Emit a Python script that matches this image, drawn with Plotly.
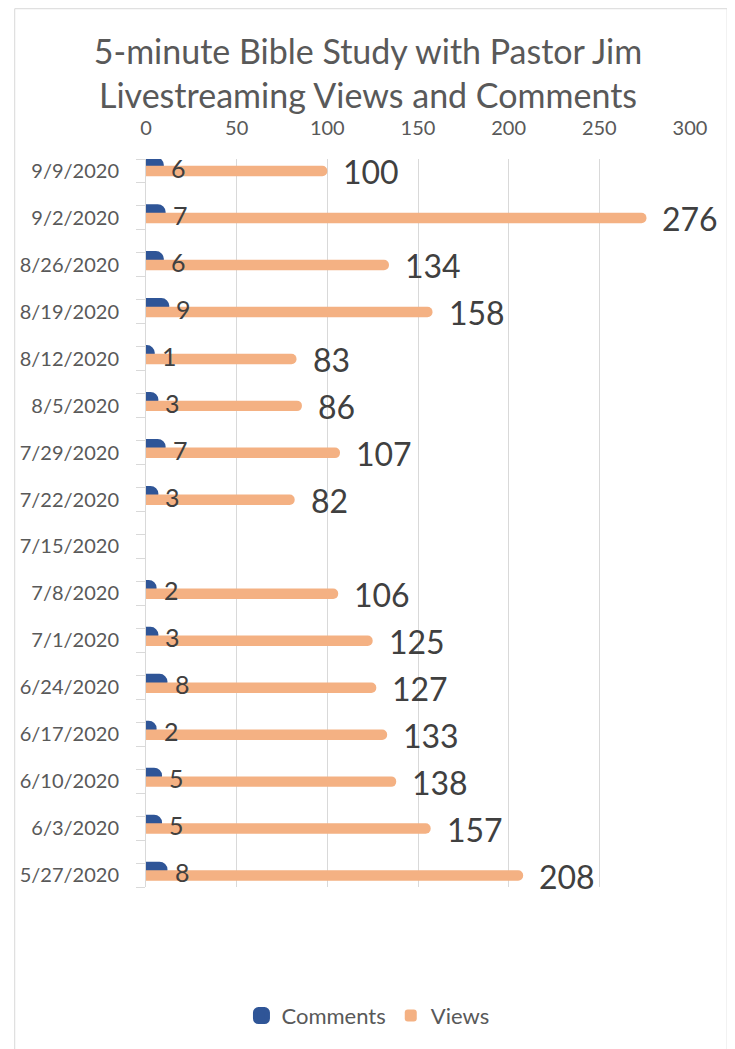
import plotly.graph_objects as go

dates = ["9/9/2020", "9/2/2020", "8/26/2020", "8/19/2020", "8/12/2020", "8/5/2020",
         "7/29/2020", "7/22/2020", "7/15/2020", "7/8/2020", "7/1/2020", "6/24/2020",
         "6/17/2020", "6/10/2020", "6/3/2020", "5/27/2020"]
comments = [6, 7, 6, 9, 1, 3, 7, 3, None, 2, 3, 8, 2, 5, 5, 8]
views = [100, 276, 134, 158, 83, 86, 107, 82, None, 106, 125, 127, 133, 138, 157, 208]
x_ticks = [0, 50, 100, 150, 200, 250, 300]

BLUE = "#2F5597"
ORANGE = "#F4B183"
GRID = "#D9D9D9"
TXT = "#595959"
LBL = "#404040"
FONT = "Lato"

# page body has an 8px default margin: figure coordinates = page coordinates - 8
OFF = 8
W, H = 735 - OFF, 1049 - OFF
L, R, T, B = 141 - OFF, 45, 159 - OFF, 161

n = len(dates)
pos = list(range(n))          # category slots of the dates
lo, hi = -0.25, n - 1 + 0.25

fig = go.Figure()
fig.add_trace(go.Bar(
    name="Comments", y=pos, x=comments, orientation="h",
    width=0.045, offset=-0.14,
    marker=dict(color=BLUE, line=dict(color=BLUE, width=14), cornerradius=1),
))
fig.add_trace(go.Bar(
    name="Views", y=pos, x=views, orientation="h",
    width=0.223, offset=-0.105,
    marker=dict(color=ORANGE, line=dict(width=0), cornerradius=5),
))

ann = []
for p, c, v in zip(pos, comments, views):
    if c is not None:
        ann.append(dict(x=c, y=p, xref="x", yref="y", text=str(c), showarrow=False,
                        xanchor="left", yanchor="middle", xshift=12, yshift=3,
                        font=dict(family=FONT, size=25, color=LBL)))
    if v is not None:
        ann.append(dict(x=v, y=p, xref="x", yref="y", text=str(v), showarrow=False,
                        xanchor="left", yanchor="middle", xshift=14, yshift=-1,
                        font=dict(family=FONT, size=32, color=LBL)))

pw = W - L - R
ph = H - T - B
def px_x(p):
    return (p - OFF - L) / pw
def px_y(p):
    return (H - B - (p - OFF)) / ph

fig.update_layout(
    width=W, height=H, autosize=False,
    margin=dict(l=L, r=R, t=T, b=B, pad=0),
    paper_bgcolor="white", plot_bgcolor="white",
    barmode="overlay",
    font=dict(family=FONT, color=TXT),
    title=dict(text="5-minute Bible Study with Pastor Jim<br>Livestreaming Views and Comments",
               x=(368 - OFF) / W, xref="container", xanchor="center",
               y=1 - 56 / H, yref="container", yanchor="middle",
               font=dict(family=FONT, size=34, color=TXT)),
    xaxis=dict(side="top", range=[0, 300], tickvals=x_ticks, showgrid=True,
               gridcolor=GRID, gridwidth=1, zeroline=False, showline=False,
               ticks="", ticklabelstandoff=19,
               tickfont=dict(family=FONT, size=20, color=TXT)),
    yaxis=dict(range=[hi, lo], tickmode="array", tickvals=pos, ticktext=dates,
               showgrid=False, zeroline=False, showline=True,
               linecolor=GRID, linewidth=1, ticks="", ticklabelstandoff=22,
               tickfont=dict(family=FONT, size=20, color=TXT),
               minor=dict(tick0=lo, dtick=0.5, ticks="outside", ticklen=9,
                          tickcolor=GRID, tickwidth=1, showgrid=False)),
    legend=dict(orientation="h", x=px_x(365), xanchor="center", xref="paper",
                y=px_y(1017), yanchor="middle",
                font=dict(family=FONT, size=22, color=TXT)),
    annotations=ann,
    shapes=[dict(type="rect", xref="paper", yref="paper",
                 x0=px_x(8.5), x1=px_x(727.5), y0=px_y(1070), y1=px_y(8.5),
                 line=dict(color=GRID, width=1), fillcolor="rgba(0,0,0,0)", layer="below")],
)

fig.write_html("out.html")
